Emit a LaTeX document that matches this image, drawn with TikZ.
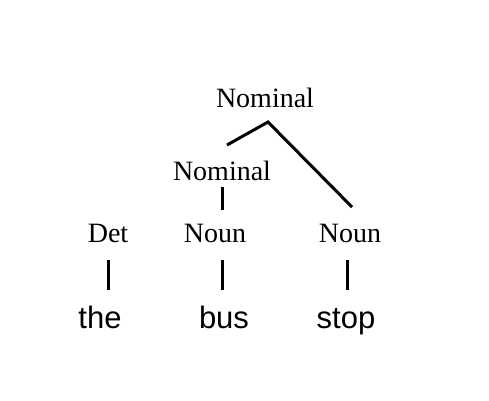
\documentclass[tikz,border=0pt]{standalone}
\usepackage{fontspec}
\setmainfont{Liberation Serif}
\newfontfamily\wordfont{Liberation Sans}
\begin{document}
\begin{tikzpicture}[x=1pt,y=-1pt,
    cat/.style={inner sep=0pt,anchor=base,font=\fontsize{28}{30}\selectfont},
    word/.style={inner sep=0pt,anchor=base,font=\wordfont\fontsize{31}{34}\selectfont},
    branch/.style={line width=3pt}]
  \useasboundingbox (0,0) rectangle (489,400);

  % categories
  \node [cat] (nomtop) at (265,107) {Nominal};
  \node [cat] (nomsub) at (222,180) {Nominal};
  \node [cat] (det)    at (108,242) {Det};
  \node [cat] (nounA)  at (215,242) {Noun};
  \node [cat] (nounB)  at (350,242) {Noun};

  % words
  \node [word] (the)  at (100,328) {the};
  \node [word] (bus)  at (224,328) {bus};
  \node [word] (stop) at (346,328) {stop};

  \coordinate (apex) at (268,122);
  \coordinate (lend) at (227,145);
  \coordinate (rend) at (352,207);

  % branches
  \draw [branch] (lend) -- (apex) -- (rend);
  \draw [branch,shorten <=7pt,shorten >=32pt] (nomsub.base) -- (nomsub.base |- nounA.base);
  \draw [branch,shorten <=18pt,shorten >=38pt] (det.base) -- (det.base |- the.base);
  \draw [branch,shorten <=18pt,shorten >=38pt] (nounA.base -| 222,0) -- (bus.base -| 222,0);
  \draw [branch,shorten <=18pt,shorten >=38pt] (nounB.base -| 347,0) -- (stop.base -| 347,0);
\end{tikzpicture}
\end{document}
